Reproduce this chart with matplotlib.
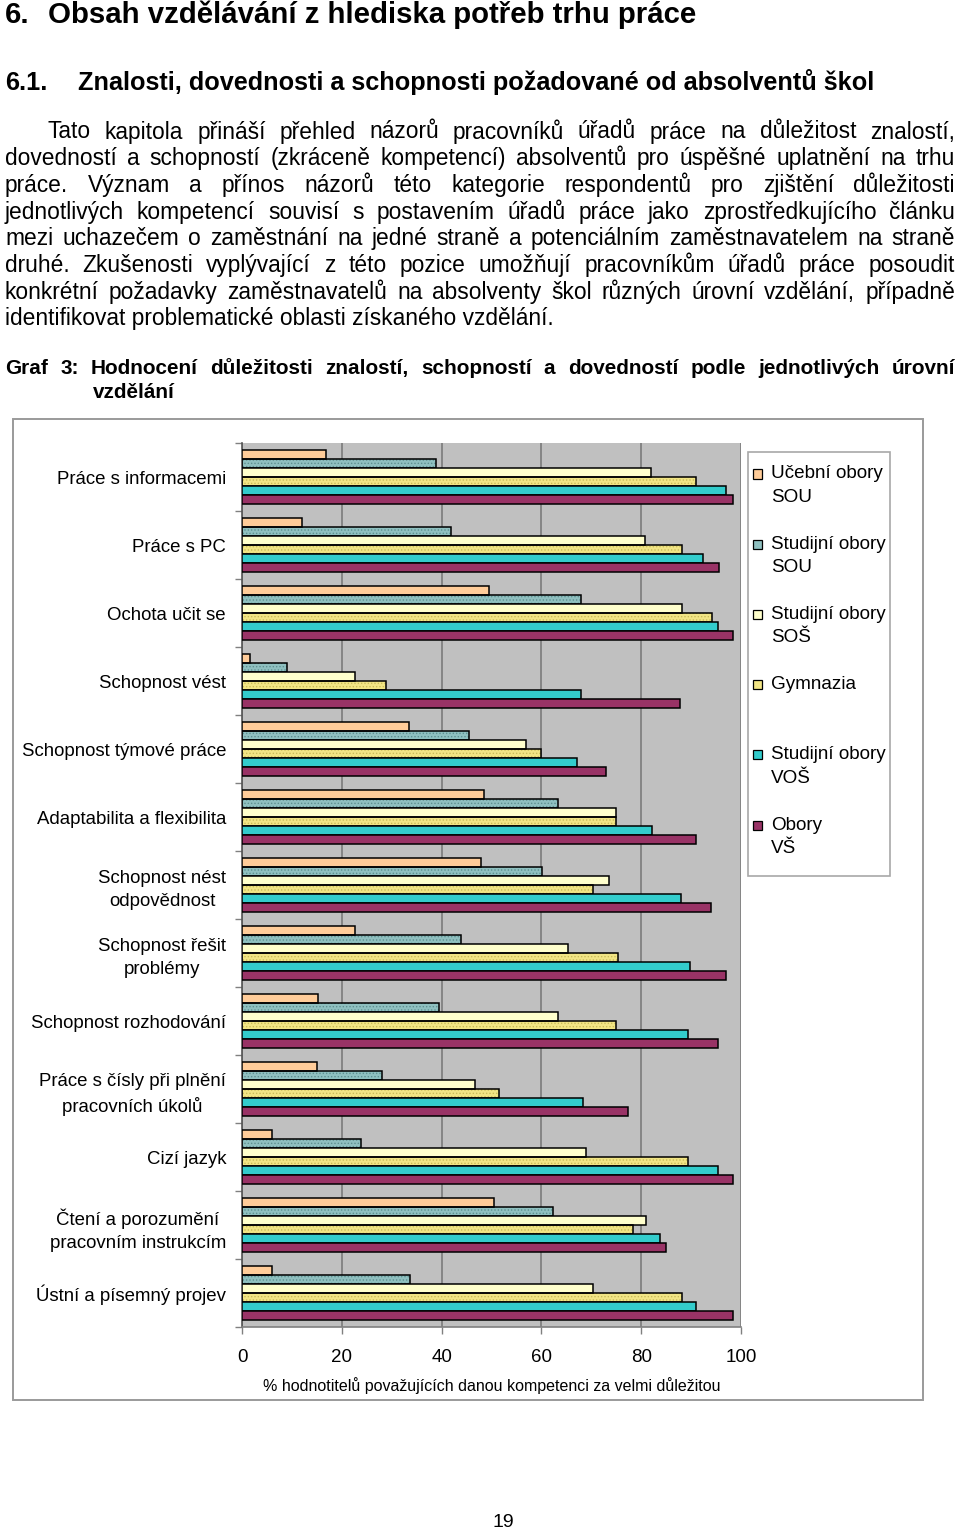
import matplotlib
matplotlib.use('Agg')
import matplotlib.pyplot as plt
from matplotlib import font_manager as fm
from matplotlib.patches import Rectangle
import numpy as np

# ---------------- data ----------------
categories = ["Práce s informacemi", "Práce s PC", "Ochota učit se", "Schopnost vést",
              "Schopnost týmové práce", "Adaptabilita a flexibilita",
              "Schopnost nést\nodpovědnost", "Schopnost řešit\nproblémy",
              "Schopnost rozhodování", "Práce s čísly při plnění\npracovních úkolů",
              "Cizí jazyk", "Čtení a porozumění\npracovním instrukcím",
              "Ústní a písemný projev"]

series_names = ["Učební obory\nSOU", "Studijní obory\nSOU", "Studijní obory\nSOŠ",
                "Gymnazia", "Studijní obory\nVOŠ", "Obory\nVŠ"]

ucebni_sou = [16.9, 12.1, 49.4, 1.6, 33.5, 48.5, 47.9, 22.6, 15.3, 15.1, 6.1, 50.6, 6.1]
studijni_sou = [38.9, 41.9, 68.0, 9.1, 45.5, 63.3, 60.2, 43.9, 39.5, 28.1, 23.9, 62.3, 33.7]
studijni_sos = [81.9, 80.7, 88.1, 22.6, 56.9, 74.9, 73.5, 65.3, 63.3, 46.7, 68.9, 80.9, 70.4]
gymnazia = [90.9, 88.1, 94.1, 28.9, 59.9, 74.9, 70.4, 75.3, 74.9, 51.5, 89.4, 78.3, 88.1]
studijni_vos = [96.9, 92.3, 95.4, 68.0, 67.1, 82.2, 87.9, 89.7, 89.4, 68.3, 95.3, 83.7, 90.9]
obory_vs = [98.4, 95.5, 98.4, 87.7, 72.9, 90.9, 93.9, 96.9, 95.4, 77.4, 98.4, 84.9, 98.4]

x_ticks = [0, 20, 40, 60, 80, 100]
x_label = "% hodnotitelů považujících danou kompetenci za velmi důležitou"

title = "Obsah vzdělávání z hlediska potřeb trhu práce"
subtitle = "Znalosti, dovednosti a schopnosti požadované od absolventů škol"
body_lines = [
    "Tato kapitola přináší přehled názorů pracovníků úřadů práce na důležitost znalostí,",
    "dovedností a schopností (zkráceně kompetencí) absolventů pro úspěšné uplatnění na trhu",
    "práce. Význam a přínos názorů této kategorie respondentů pro zjištění důležitosti",
    "jednotlivých kompetencí souvisí s postavením úřadů práce jako zprostředkujícího článku",
    "mezi uchazečem o zaměstnání na jedné straně a potenciálním zaměstnavatelem na straně",
    "druhé. Zkušenosti vyplývající z této pozice umožňují pracovníkům úřadů práce posoudit",
    "konkrétní požadavky zaměstnavatelů na absolventy škol různých úrovní vzdělání, případně",
    "identifikovat problematické oblasti získaného vzdělání.",
]
caption_1 = "Graf 3: Hodnocení důležitosti znalostí, schopností a dovedností podle jednotlivých úrovní"
caption_2 = "vzdělání"
page_number = "19"

# ---------------- styles ----------------
values = [ucebni_sou, studijni_sou, studijni_sos, gymnazia, studijni_vos, obory_vs]
face_colors = ['#FFCC99', '#8FC0C0', '#FFFFCC', '#F2E585', '#33CCCC', '#993366']
hatches = [None, '.....', None, '.....', None, None]
hatch_colors = [None, '#5E9090', None, '#C9BC5A', None, None]

W, H = 960, 1533
plt.rcParams['font.family'] = ['Liberation Sans', 'DejaVu Sans']
plt.rcParams['hatch.linewidth'] = 0.6
fig = plt.figure(figsize=(W / 100, H / 100), dpi=100)
fig.patch.set_facecolor('white')
renderer = fig.canvas.get_renderer()


def fx(x):
    return x / W


def fy(y):
    return 1 - y / H


def text_width(s, **kw):
    t = fig.text(0, 0, s, **kw)
    w = t.get_window_extent(renderer).width
    t.remove()
    return w


def justify(line, x0, x1, ybase, **kw):
    words = line.split()
    widths = [text_width(w, **kw) for w in words]
    gap = (x1 - x0 - sum(widths)) / (len(words) - 1)
    x = x0
    for w, wd in zip(words, widths):
        fig.text(fx(x), fy(ybase), w, ha='left', va='baseline', **kw)
        x += wd + gap


def fit_size(s, width, size0, **kw):
    return size0 * width / text_width(s, fontsize=size0, **kw)


# narrow bold font for headings if available
try:
    fm.findfont(fm.FontProperties(family='Liberation Sans Narrow'), fallback_to_default=False)
    head_family = ['Liberation Sans Narrow', 'Liberation Sans']
except Exception:
    head_family = ['Liberation Sans']

# headings
s1 = fit_size(title, 697 - 48, 18, family=head_family, weight='bold')
fig.text(fx(5), fy(23), "6.", fontsize=s1, family=head_family, weight='bold', va='baseline')
fig.text(fx(48), fy(23), title, fontsize=s1, family=head_family, weight='bold', va='baseline')
s2 = fit_size(subtitle, 872 - 78, 16, family=head_family, weight='bold')
fig.text(fx(5), fy(90), "6.1.", fontsize=s2, family=head_family, weight='bold', va='baseline')
fig.text(fx(78), fy(90), subtitle, fontsize=s2, family=head_family, weight='bold', va='baseline')

# body paragraph (justified)
body_size = fit_size(body_lines[-1], 557 - 5, 14)
body_kw = dict(fontsize=body_size)
for i, line in enumerate(body_lines):
    yb = 138.5 + i * 26.7
    x0 = 48 if i == 0 else 5
    if i == len(body_lines) - 1:
        fig.text(fx(x0), fy(yb), line, ha='left', va='baseline', **body_kw)
    else:
        justify(line, x0, 955, yb, **body_kw)

# caption
cap_size = fit_size(caption_2, 175 - 93, 14, weight='bold')
cap_kw = dict(fontsize=cap_size, weight='bold')
justify(caption_1, 5, 955, 374, **cap_kw)
fig.text(fx(93), fy(398), caption_2, ha='left', va='baseline', **cap_kw)

# chart outer frame
fig.patches.append(Rectangle((fx(13), fy(1400)), (923 - 13) / W, (1400 - 419) / H,
                             transform=fig.transFigure, fill=False,
                             edgecolor='#9A9A9A', linewidth=1.4, zorder=0))

# ---------------- bar chart ----------------
ax = fig.add_axes([fx(242), fy(1327), (741 - 242) / W, (1327 - 443) / H])
ax.set_facecolor('#C0C0C0')
n = len(categories)
ypos = np.arange(n)
bh = 0.8 / len(values)
for j, vals in enumerate(values):
    pos = ypos + (j - (len(values) - 1) / 2) * bh
    if hatches[j]:
        ax.barh(pos, vals, height=bh, color=face_colors[j], hatch=hatches[j],
                edgecolor=hatch_colors[j], linewidth=0, zorder=2)
        ax.barh(pos, vals, height=bh, facecolor='none', edgecolor='black',
                linewidth=1.1, zorder=3)
    else:
        ax.barh(pos, vals, height=bh, facecolor=face_colors[j], edgecolor='black',
                linewidth=1.1, zorder=3)

ax.set_xlim(0, 100)
ax.set_ylim(n - 0.5, -0.5)
ax.set_xticks(x_ticks)
ax.set_xticklabels([str(t) for t in x_ticks], fontsize=13.5)
ax.set_yticks(ypos)
ax.set_yticklabels(categories, fontsize=13.4, multialignment='center', linespacing=1.5)
ax.set_yticks(np.arange(-0.5, n, 1.0), minor=True)
ax.tick_params(axis='y', which='major', length=0, pad=11.5)
ax.tick_params(axis='y', which='minor', length=5, width=1, color='#808080', direction='out')
ax.tick_params(axis='x', which='major', length=5, width=1, color='#808080', direction='out', pad=10.5)
ax.xaxis.grid(True, color='#808080', linewidth=1.3)
ax.set_axisbelow(True)
for side in ['top', 'right']:
    ax.spines[side].set_visible(False)
ax.spines['left'].set_color('#555555')
ax.spines['bottom'].set_color('#808080')
ax.spines['left'].set_linewidth(1.2)
ax.spines['bottom'].set_linewidth(1.2)
ax.set_xlabel(x_label, fontsize=11.5, labelpad=8)

# ---------------- legend (manual, Excel-like) ----------------
fig.patches.append(Rectangle((fx(748), fy(876)), (890 - 748) / W, (876 - 452) / H,
                             transform=fig.transFigure, facecolor='white',
                             edgecolor='#A8A8A8', linewidth=1.2, zorder=1))
for j, name in enumerate(series_names):
    yc = 472 + j * 70.2
    fig.patches.append(Rectangle((fx(753), fy(yc + 6.5)), 9 / W, 9 / H,
                                 transform=fig.transFigure, facecolor=face_colors[j],
                                 edgecolor='black', linewidth=0.9, zorder=2))
    for k, part in enumerate(name.split('\n')):
        fig.text(fx(771), fy(yc + 6.5 + k * 23.5), part, fontsize=13.6, ha='left',
                 va='baseline', zorder=3)

# page number
fig.text(fx(503), fy(1527), page_number, fontsize=14, ha='center', va='baseline')

fig.savefig('out.png', dpi=100)
